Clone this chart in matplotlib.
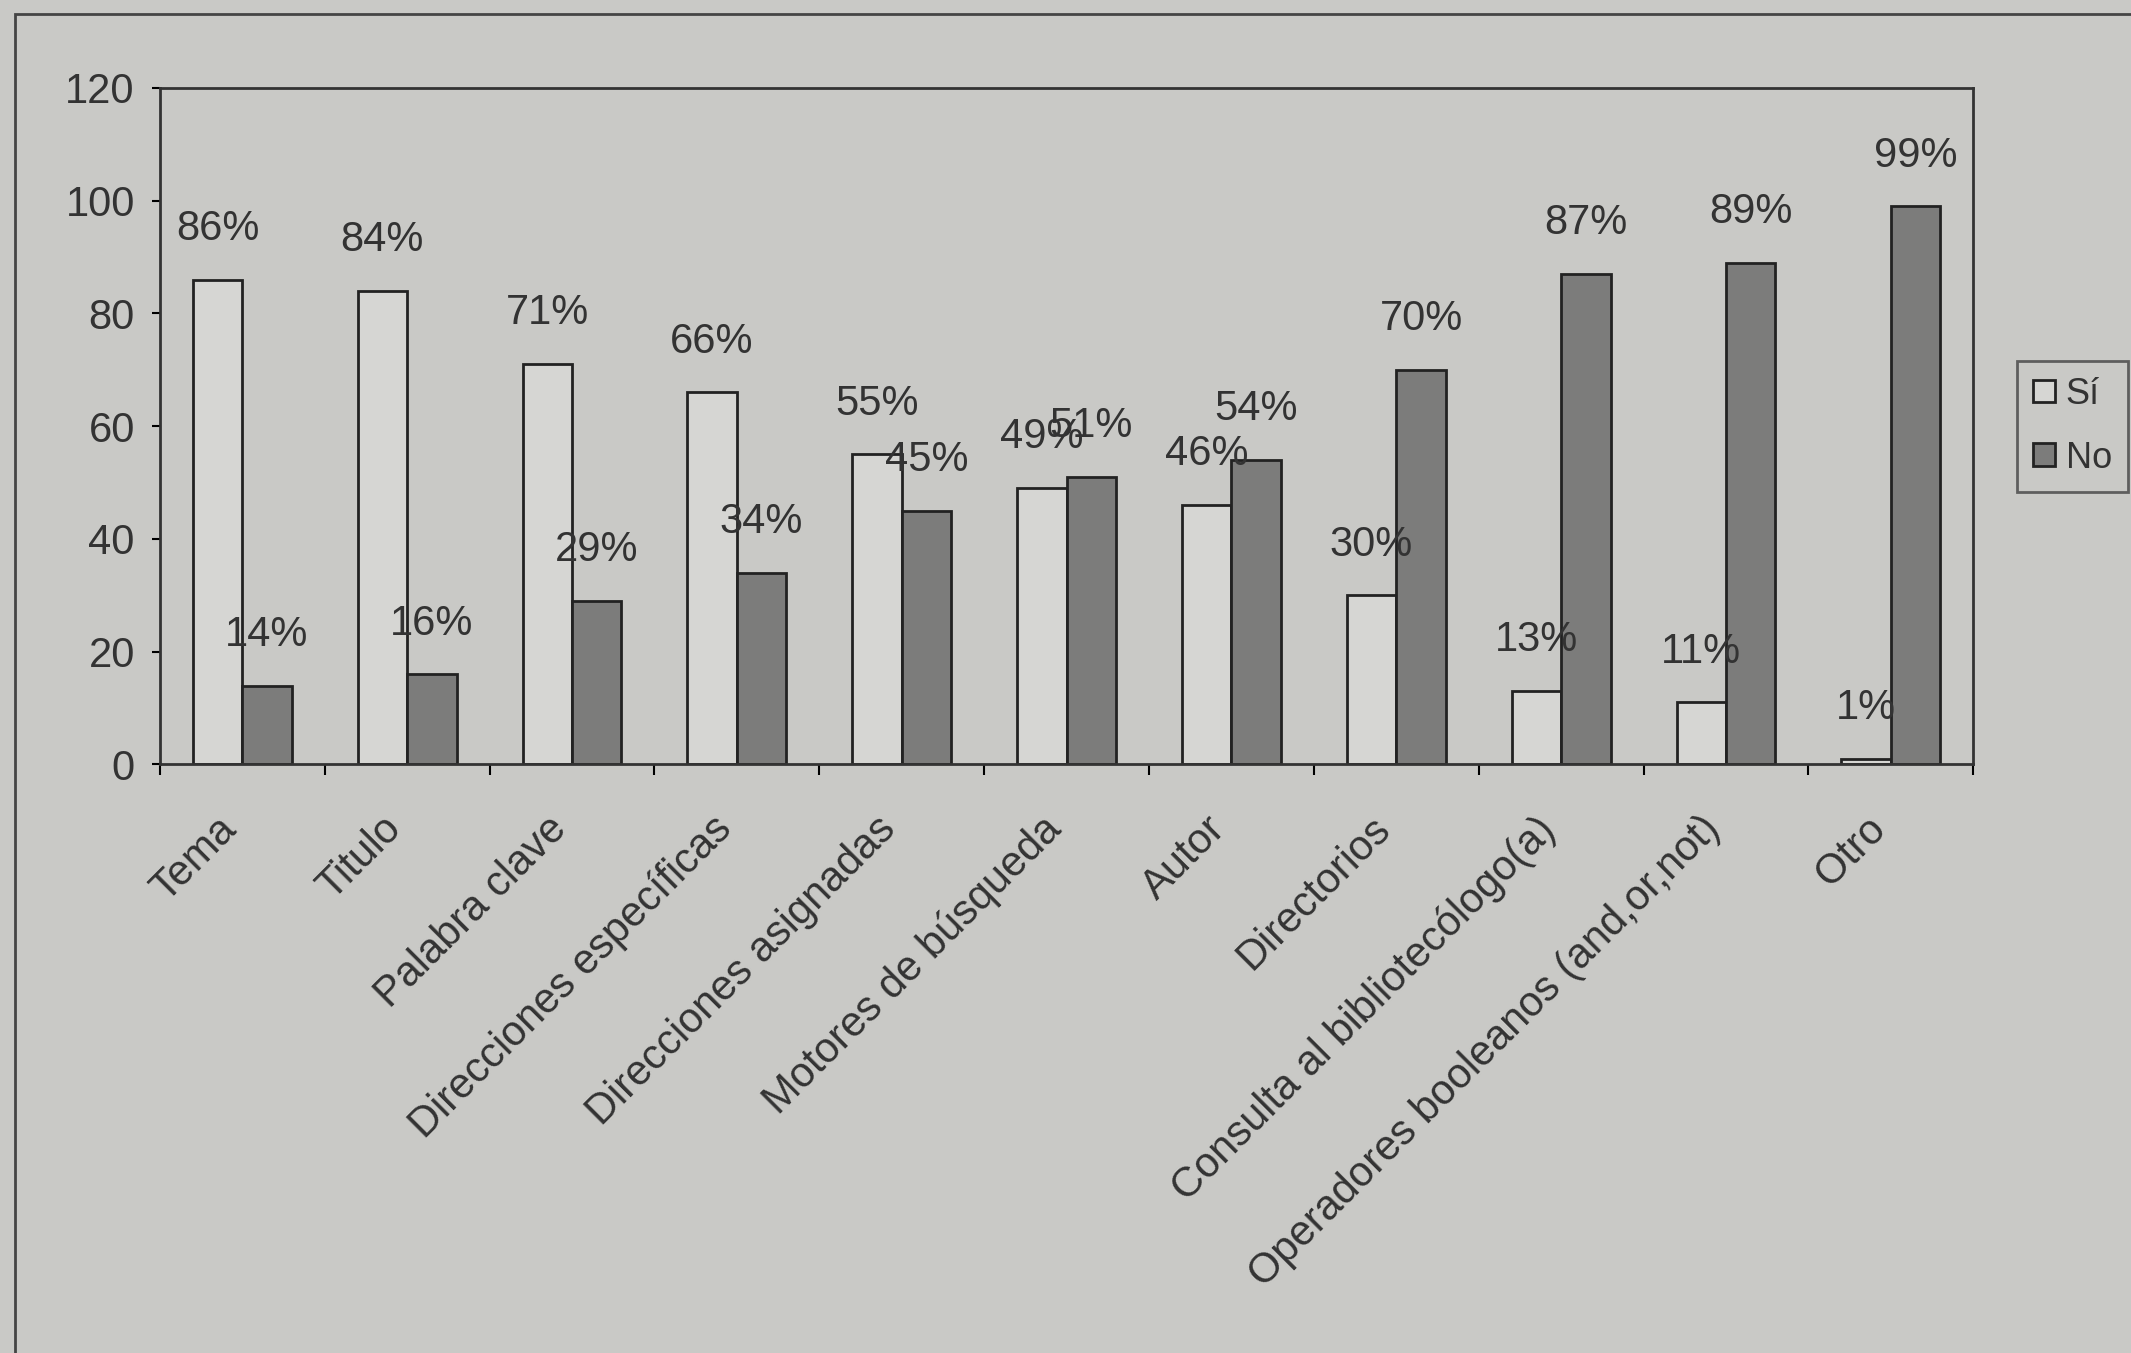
import numpy as np
import matplotlib.pyplot as plt
import matplotlib.transforms as mtransforms
from matplotlib.patches import Rectangle

plt.rcParams['font.family'] = ['Liberation Sans', 'DejaVu Sans']

# categorias y porcentajes
categorias = ["Tema", "Titulo", "Palabra clave", "Direcciones específicas",
              "Direcciones asignadas", "Motores de búsqueda", "Autor",
              "Directorios", "Consulta al bibliotecólogo(a)",
              "Operadores booleanos (and,or,not)", "Otro"]
si = [86, 84, 71, 66, 55, 49, 46, 30, 13, 11, 1]
no = [14, 16, 29, 34, 45, 51, 54, 70, 87, 89, 99]
yticks = [0, 20, 40, 60, 80, 100, 120]

fondo = '#c9c9c6'
texto = '#333333'

fig = plt.figure(figsize=(21.31, 13.53), dpi=100, facecolor=fondo)
ax = fig.add_axes([0.075, 0.435, 0.851, 0.50])
ax.set_facecolor(fondo)

x = np.arange(len(categorias))
w = 0.3
ax.bar(x - w / 2, si, w, color='#d6d6d3', edgecolor='#222222', linewidth=2, label='Sí')
ax.bar(x + w / 2, no, w, color='#7c7c7b', edgecolor='#222222', linewidth=2, label='No')

# etiquetas de porcentaje encima de cada barra
for xi, v in zip(x - w / 2, si):
    ax.text(xi, v + 9, f"{v}%", ha='center', va='center', fontsize=30, color=texto)
for xi, v in zip(x + w / 2, no):
    ax.text(xi, v + 9, f"{v}%", ha='center', va='center', fontsize=30, color=texto)

ax.set_xlim(-0.5, len(categorias) - 0.5)
ax.set_ylim(0, 120)
ax.set_yticks(yticks)
ax.tick_params(axis='y', labelsize=30, labelcolor=texto, length=6, width=1.5, pad=12)

ax.set_xticks(x)
ax.set_xticklabels(categorias, rotation=45, ha='right', rotation_mode='anchor',
                   fontsize=30, color=texto)
ax.tick_params(axis='x', length=0, pad=32)
desplaza = mtransforms.ScaledTranslation(-0.26, 0, fig.dpi_scale_trans)
for lbl in ax.get_xticklabels():
    lbl.set_transform(lbl.get_transform() + desplaza)
ax.set_xticks(np.arange(-0.5, len(categorias)), minor=True)
ax.tick_params(axis='x', which='minor', length=8, width=1.5)

for s in ax.spines.values():
    s.set_linewidth(2)
    s.set_color('#333333')

leg = ax.legend(loc='center left', bbox_to_anchor=(1.024, 0.5), borderaxespad=0,
                fontsize=26, frameon=True, handlelength=0.6, handleheight=0.6,
                handletextpad=0.3, borderpad=0.45, labelspacing=0.8)
leg.get_frame().set_facecolor(fondo)
leg.get_frame().set_edgecolor('#444444')
leg.get_frame().set_linewidth(2)
leg.get_frame().set_boxstyle('square', pad=0)
for t in leg.get_texts():
    t.set_color(texto)

# marco exterior del grafico
fig.patches.append(Rectangle((0.007, -0.1), 1.2, 1.09, transform=fig.transFigure,
                             fill=False, edgecolor='#444444', linewidth=2))

fig.savefig('out.png', dpi=100, facecolor=fondo)
